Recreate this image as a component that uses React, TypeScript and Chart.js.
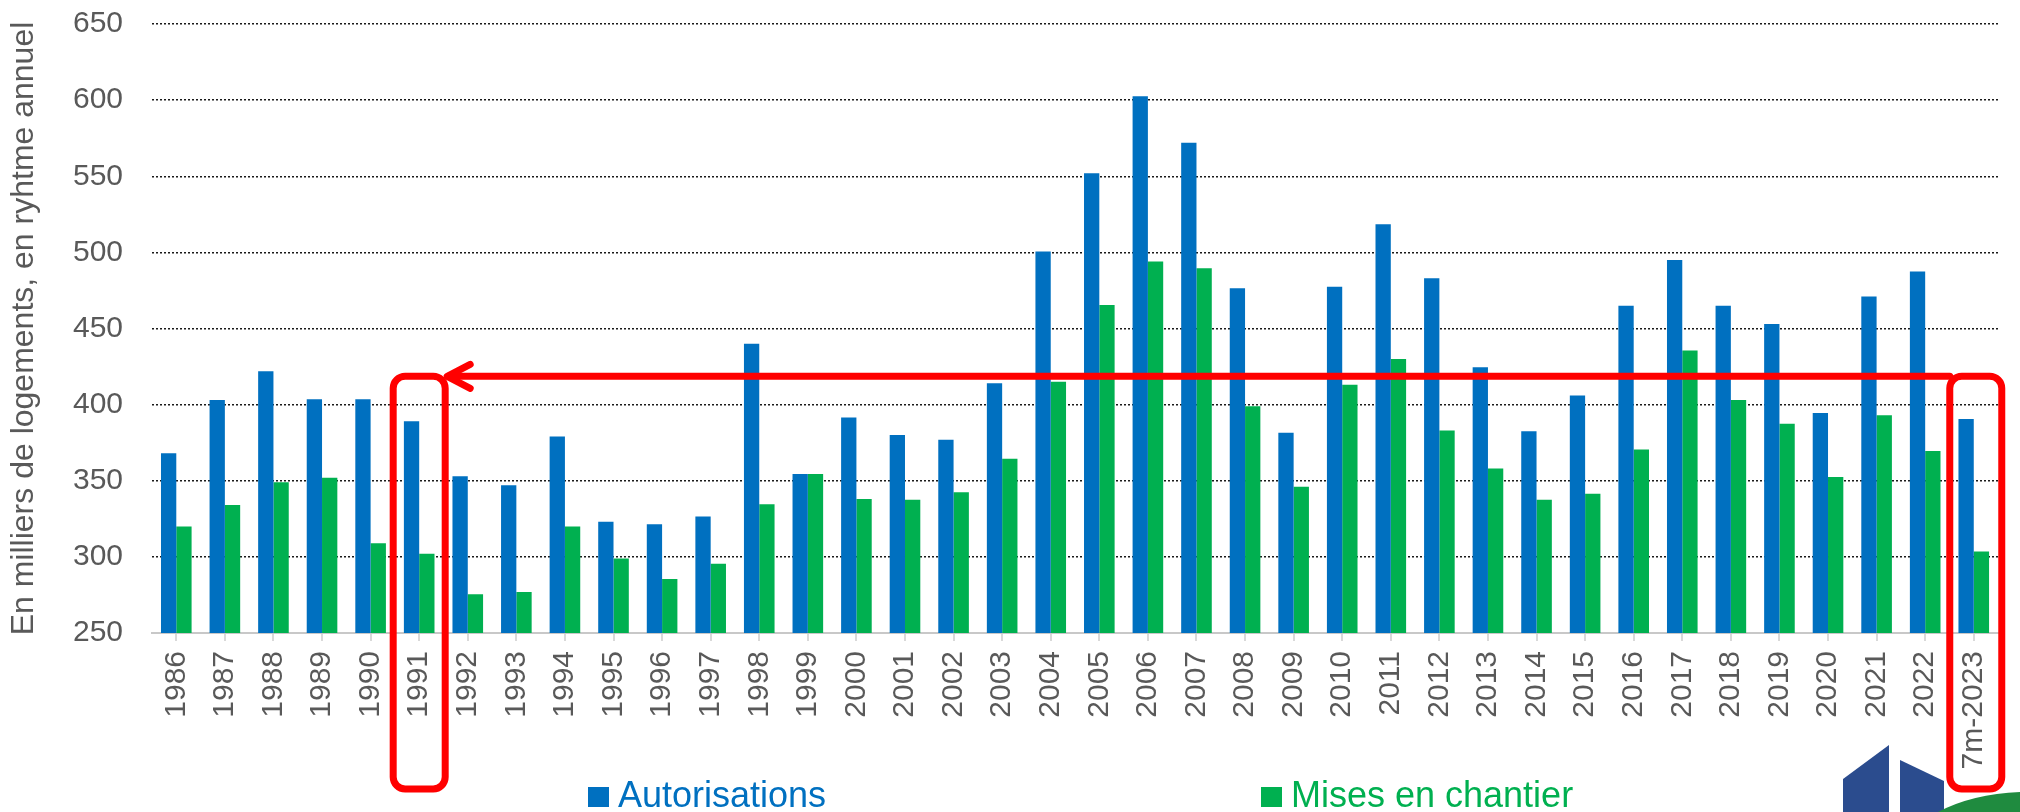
import React, { useEffect, useRef } from 'react';
import { Chart, registerables } from 'chart.js';

Chart.register(...registerables);

const categories = [
  '1986', '1987', '1988', '1989', '1990', '1991', '1992', '1993', '1994', '1995',
  '1996', '1997', '1998', '1999', '2000', '2001', '2002', '2003', '2004', '2005',
  '2006', '2007', '2008', '2009', '2010', '2011', '2012', '2013', '2014', '2015',
  '2016', '2017', '2018', '2019', '2020', '2021', '2022', '7m-2023',
];

const autorisations = [
  368, 403, 422, 403.5, 403.5, 389, 353, 347, 379, 323,
  321.5, 326.5, 440, 354.5, 391.5, 380, 377, 414, 500.5, 552,
  602.5, 572, 476.5, 381.5, 477.5, 518.5, 483, 424.5, 382.5, 406,
  465, 495, 465, 453, 394.5, 471, 487.5, 390.5,
];

const misesEnChantier = [
  320, 334, 349, 352, 309, 302, 275.5, 277, 320, 299,
  285.5, 295.5, 334.5, 354.5, 338, 337.5, 342.5, 364.5, 415, 465.5,
  494, 489.5, 399, 346, 413, 430, 383, 358, 337.5, 341.5,
  370.5, 435.5, 403, 387.5, 352.5, 393, 369.5, 303.5,
];

const yTickMin = 250;
const yTickMax = 650;
const yTickStep = 50;

const seriesLabels = ['Autorisations', 'Mises en chantier'];
const yTitle = 'En milliers de logements, en ryhtme annuel';

// annotation: compare 7m-2023 with 1991
const highlightFrom = '7m-2023';
const highlightTo = '1991';
const arrowLevel = 418.6;

const BLUE = '#0070C0';
const GREEN = '#00B050';
const RED = '#FF0000';
const GREY_TEXT = '#595959';
const FONT = "'Liberation Sans', Arial, Helvetica, sans-serif";

function roundRectPath(ctx: CanvasRenderingContext2D, x: number, y: number, w: number, h: number, r: number) {
  ctx.beginPath();
  ctx.moveTo(x + r, y);
  ctx.lineTo(x + w - r, y);
  ctx.arcTo(x + w, y, x + w, y + r, r);
  ctx.lineTo(x + w, y + h - r);
  ctx.arcTo(x + w, y + h, x + w - r, y + h, r);
  ctx.lineTo(x + r, y + h);
  ctx.arcTo(x, y + h, x, y + h - r, r);
  ctx.lineTo(x, y + r);
  ctx.arcTo(x, y, x + r, y, r);
  ctx.closePath();
}

const overlayPlugin = {
  id: 'overlay',
  afterDraw(chart: any) {
    const ctx: CanvasRenderingContext2D = chart.ctx;
    const xs = chart.scales.x;
    const ys = chart.scales.y;
    const area = chart.chartArea;

    // ---- red boxes & arrow
    const yTop = ys.getPixelForValue(arrowLevel);
    const yBottom = area.bottom + 156;
    const half = 26;
    const cxL = xs.getPixelForValue(categories.indexOf(highlightTo));
    const cxR = xs.getPixelForValue(categories.indexOf(highlightFrom)) + 2;

    ctx.save();
    ctx.strokeStyle = RED;
    ctx.lineWidth = 7;
    ctx.lineJoin = 'round';
    ctx.lineCap = 'round';
    roundRectPath(ctx, cxL - half, yTop, half * 2, yBottom - yTop, 12);
    ctx.stroke();
    roundRectPath(ctx, cxR - half, yTop, half * 2, yBottom - yTop, 12);
    ctx.stroke();

    const tipX = cxL + half + 2;
    ctx.beginPath();
    ctx.moveTo(cxR - half, yTop);
    ctx.lineTo(tipX + 4, yTop);
    ctx.stroke();
    ctx.beginPath();
    ctx.moveTo(tipX + 23, yTop - 12);
    ctx.lineTo(tipX, yTop);
    ctx.lineTo(tipX + 23, yTop + 12);
    ctx.stroke();
    ctx.restore();

    // ---- legend
    ctx.save();
    ctx.font = `36px ${FONT}`;
    ctx.textBaseline = 'alphabetic';
    ctx.textAlign = 'left';
    ctx.fillStyle = BLUE;
    ctx.fillRect(588, 787, 21, 20);
    ctx.fillText(chart.data.datasets[0].label, 618, 807);
    ctx.fillStyle = GREEN;
    ctx.fillRect(1261, 787, 21, 20);
    ctx.fillText(chart.data.datasets[1].label, 1291, 807);
    ctx.restore();

    // ---- logo
    ctx.save();
    ctx.fillStyle = '#2B4C8E';
    ctx.beginPath();
    ctx.moveTo(1843, 779);
    ctx.lineTo(1889, 745);
    ctx.lineTo(1889, 812);
    ctx.lineTo(1843, 812);
    ctx.closePath();
    ctx.fill();
    ctx.beginPath();
    ctx.moveTo(1900, 760);
    ctx.lineTo(1944, 781);
    ctx.lineTo(1944, 812);
    ctx.lineTo(1900, 812);
    ctx.closePath();
    ctx.fill();
    ctx.fillStyle = '#1F8B3F';
    ctx.beginPath();
    ctx.moveTo(1938, 812);
    ctx.quadraticCurveTo(1972, 794, 2020, 792);
    ctx.lineTo(2020, 812);
    ctx.closePath();
    ctx.fill();
    ctx.restore();
  },
};

export default function App() {
  const canvasRef = useRef<HTMLCanvasElement>(null);

  useEffect(() => {
    if (!canvasRef.current) return;
    Chart.defaults.font.family = FONT;
    const chart = new Chart(canvasRef.current, {
      type: 'bar',
      data: {
        labels: categories,
        datasets: [
          {
            label: seriesLabels[0],
            data: autorisations,
            backgroundColor: BLUE,
            borderWidth: 0,
            categoryPercentage: 0.63,
            barPercentage: 1.0,
          },
          {
            label: seriesLabels[1],
            data: misesEnChantier,
            backgroundColor: GREEN,
            borderWidth: 0,
            categoryPercentage: 0.63,
            barPercentage: 1.0,
          },
        ],
      },
      options: {
        responsive: false,
        animation: false,
        devicePixelRatio: 1,
        layout: { autoPadding: false, padding: { top: 24, right: 18, left: 0, bottom: 0 } },
        plugins: {
          legend: { display: false },
          tooltip: { enabled: false },
          title: { display: false },
        },
        scales: {
          x: {
            grid: {
              display: true,
              drawOnChartArea: false,
              drawTicks: true,
              tickLength: 8,
              color: '#d9d9d9',
              lineWidth: 2,
              offset: false,
            },
            border: { display: true, color: '#c8c8c8', width: 2 },
            ticks: {
              autoSkip: false,
              maxRotation: 90,
              minRotation: 90,
              padding: 10,
              color: GREY_TEXT,
              font: { size: 30 },
            },
            afterFit: (s: any) => {
              s.height = 179;
            },
          },
          y: {
            min: yTickMin,
            max: yTickMax,
            ticks: {
              stepSize: yTickStep,
              padding: 0,
              color: GREY_TEXT,
              font: { size: 30 },
            },
            grid: {
              color: (c: any) => (c.tick && c.tick.value === yTickMin ? 'rgba(0,0,0,0)' : '#1a1a1a'),
              lineWidth: 1.5,
              drawTicks: true,
              tickLength: 29,
              tickColor: 'rgba(0,0,0,0)',
            },
            border: { display: false, dash: [2, 2] },
            title: {
              display: true,
              text: yTitle,
              color: GREY_TEXT,
              font: { size: 32 },
              padding: { top: 5, bottom: 0 },
            },
            afterFit: (s: any) => {
              s.width = 152;
            },
          },
        },
      },
      plugins: [overlayPlugin],
    } as any);
    return () => chart.destroy();
  }, []);

  return (
    <div style={{ position: 'absolute', left: 0, top: 0, width: 2020, height: 812, background: '#fff' }}>
      <canvas ref={canvasRef} width={2020} height={812} style={{ display: 'block', width: 2020, height: 812 }} />
    </div>
  );
}
